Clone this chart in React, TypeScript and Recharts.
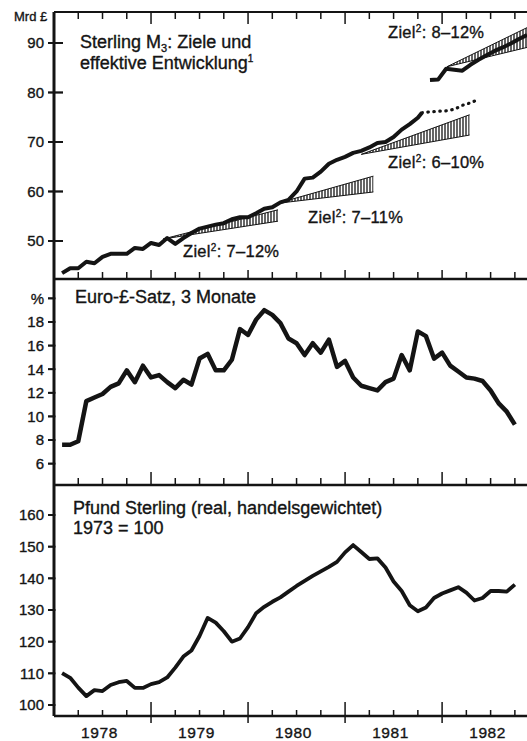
import React from 'react';
import { ComposedChart, Line, Area, XAxis, YAxis } from 'recharts';

const FONT = '"Liberation Sans", Arial, Helvetica, sans-serif';
const INK = '#141414';

// ---- time axis (months since start of 1978) ----
const X_MAX = 58.5;
const quarterTicks = [0, 3, 6, 9, 12, 15, 18, 21, 24, 27, 30, 33, 36, 39, 42, 45, 48, 51, 54, 57];
const yearLabelMonths = [6, 18, 30, 42, 54];
const yearLabels = ['1978', '1979', '1980', '1981', '1982'];

// ---- panel 1: Sterling M3 (Mrd £), monthly from Jan 1978 ----
const m3SolidStart = 1;
const m3Solid = [43.5, 44.5, 44.5, 45.8, 45.5, 46.8, 47.4, 47.4, 47.4, 48.6, 48.4, 49.6, 49.2, 50.6, 49.4,
  50.6, 51.6, 52.5, 52.9, 53.3, 53.6, 54.4, 54.8, 54.8, 55.6, 56.5, 56.8, 57.8, 58.3, 60.0, 62.6, 62.8,
  64.0, 65.6, 66.4, 67.0, 67.8, 68.2, 68.9, 69.8, 70.0, 71.0, 72.5, 73.6, 74.9];
const m3DottedStart = 45.5;
const m3Dotted = [75.9, 76.1, 76.2, 76.3, 76.6, 77.4, 77.9, 78.6];
const m3NewStart = 46.5;
const m3New = [82.5, 82.6, 84.8, 84.6, 84.4, 85.6, 86.6, 87.5, 88.4, 89.1, 89.9, 90.8, 91.6];
const m3Ticks = [50, 60, 70, 80, 90];
const m3Domain: [number, number] = [42.32, 96.26];

// target cones ("Ziel")
const coneLabels = ['7–12%', '7–11%', '6–10%', '8–12%'];
const coneStart = [13.5, 27.6, 38.0, 48.6];
const coneEnd = [27.7, 39.5, 51.4, 58.5];
const coneBase = [50.4, 57.6, 67.5, 85.2];
const coneLow = [54.0, 59.9, 71.4, 89.1];
const coneHigh = [56.3, 63.1, 75.5, 93.1];

// ---- panel 2: Euro-£ rate 3 months (%) ----
const euroStart = 1;
const euroRate = [7.6, 7.6, 7.9, 11.3, 11.6, 11.9, 12.5, 12.8, 13.9, 12.9, 14.3, 13.3, 13.5, 12.9, 12.4,
  13.1, 12.7, 14.9, 15.3, 13.9, 13.9, 14.8, 17.4, 16.9, 18.2, 19.0, 18.6, 17.9, 16.6, 16.2, 15.2, 16.2,
  15.4, 16.5, 14.2, 14.7, 13.3, 12.6, 12.4, 12.2, 12.9, 13.2, 15.2, 13.9, 17.2, 16.8, 14.9, 15.4, 14.3,
  13.8, 13.3, 13.2, 13.0, 12.2, 11.1, 10.4, 9.3];
const euroTicks = [6, 8, 10, 12, 14, 16, 18, 20];
const euroTickLabels: Record<number, string> = { 20: '%' };
const euroDomain: [number, number] = [4.19, 21.64];

// ---- panel 3: Pfund Sterling (real, trade weighted), 1973 = 100 ----
const gbpStart = 1;
const gbpIndex = [110.1, 108.6, 105.5, 102.8, 104.7, 104.4, 106.3, 107.2, 107.6, 105.4, 105.4, 106.6,
  107.2, 108.7, 111.8, 115.3, 117.2, 121.8, 127.5, 126.0, 123.3, 120.0, 121.0, 124.6, 129.0, 131.0,
  132.6, 134.0, 135.8, 137.6, 139.2, 140.8, 142.2, 143.6, 145.2, 148.2, 150.5, 148.3, 146.1, 146.3,
  143.4, 139.0, 136.0, 131.5, 129.6, 130.8, 133.8, 135.2, 136.2, 137.2, 135.5, 133.0, 133.8, 136.0,
  136.0, 135.8, 138.0];
const gbpTicks = [100, 110, 120, 130, 140, 150, 160];
const gbpDomain: [number, number] = [96.53, 169.47];

const series = (start: number, values: number[]) => values.map((v, i) => ({ x: start + i, v }));

const m3SolidData = [...series(m3SolidStart, m3Solid), { x: m3DottedStart, v: m3Dotted[0] }];
const m3DottedData = series(m3DottedStart, m3Dotted);
const m3NewData = series(m3NewStart, m3New);
const coneData = coneLabels.map((_, i) => [
  { x: coneStart[i], r: [coneBase[i], coneBase[i]] },
  { x: coneEnd[i], r: [coneLow[i], coneHigh[i]] },
]);
const euroData = series(euroStart, euroRate);
const gbpData = series(gbpStart, gbpIndex);

const textStyle = { fontFamily: FONT, fill: INK } as const;
const boldish = { stroke: INK, strokeWidth: 0.35 } as const;

type YMarks = { ticks: number[]; domain: [number, number]; plotH: number; inner: number };

// dir: +1 ticks go downward from axis, -1 upward.
// The bottom axis also draws the value-axis tick stubs at its origin (month 0).
function makeXTick(dir: number, minor: number, major: number, majorOut: number, labels: boolean, ym?: YMarks) {
  return (props: any) => {
    const x = Number(props.x);
    const y = Number(props.y);
    const v = Number(props.payload.value);
    const isMajor = v % 12 === 0;
    const len = isMajor ? major : minor;
    const out = isMajor ? majorOut : 0;
    const idx = yearLabelMonths.indexOf(v);
    let stubs: React.ReactNode = null;
    if (ym && v === 0) {
      const [d0, d1] = ym.domain;
      stubs = ym.ticks.map((t) => {
        const ty = y - ((t - d0) / (d1 - d0)) * ym.plotH;
        return (
          <path key={t} d={`M${x - 6},${ty}L${x + Math.max(ym.inner, 1.5)},${ty}`} stroke={INK}
            strokeWidth={1.8} fill="none" />
        );
      });
    }
    return (
      <g>
        {stubs}
        {v > 0 && (
          <path d={`M${x},${y - dir * out}L${x},${y + dir * len}`} stroke={INK} strokeWidth={1.5} fill="none" />
        )}
        {labels && idx >= 0 && (
          <text x={x - 3} y={y + 21.5} textAnchor="middle" fontSize={15.5} letterSpacing={0.6} {...textStyle} {...boldish}>
            {yearLabels[idx]}
          </text>
        )}
      </g>
    );
  };
}

// Y tick labels; Recharts draws the outer tick line (tickSize 6, tickMargin 4), x = label anchor
function makeYTick(inner: number, labels?: Record<number, string>) {
  return (props: any) => {
    const x = Number(props.x);
    const y = Number(props.y);
    const v = Number(props.payload.value);
    const label = labels && labels[v] !== undefined ? labels[v] : String(v);
    return (
      <g>
        {inner > 0 && (
          <path d={`M${x + 10},${y}L${x + 10 + inner},${y}`} stroke={INK} strokeWidth={1.8} fill="none" />
        )}
        <text x={x} y={y} dy="0.36em" textAnchor="end" fontSize={15} {...textStyle} {...boldish}>
          {label}
        </text>
      </g>
    );
  };
}

const W = 527;
const yTickLine = { stroke: INK, strokeWidth: 1.8 };

export default function App() {
  return (
    <div style={{ position: 'absolute', left: 0, top: 0, width: W, height: 741, background: '#fff' }}>
      {/* Panel 1 */}
      <div style={{ position: 'absolute', left: 0, top: 0 }}>
        <ComposedChart width={W} height={285} margin={{ top: 11, right: 0, bottom: 5, left: 0 }}>
          <defs>
            <pattern id="hatch" patternUnits="userSpaceOnUse" width={3} height={10}>
              <line x1={1} x2={1} y1={0} y2={10} stroke={INK} strokeWidth={1.3} />
            </pattern>
          </defs>
          <XAxis xAxisId="b" dataKey="x" type="number" domain={[0, X_MAX]} allowDataOverflow ticks={quarterTicks}
            interval={0} height={1} tickSize={0} tickMargin={0} tickLine={false}
            axisLine={{ stroke: INK, strokeWidth: 2.5 }}
            tick={makeXTick(-1, 7, 9, 0, false, { ticks: m3Ticks, domain: m3Domain, plotH: 267, inner: 9 })} />
          <XAxis xAxisId="t" orientation="top" dataKey="x" type="number" domain={[0, X_MAX]} allowDataOverflow
            ticks={quarterTicks} interval={0} height={1} tickSize={0} tickMargin={0} tickLine={false}
            axisLine={{ stroke: INK, strokeWidth: 2 }} tick={makeXTick(1, 7, 12, 0, false)} />
          <YAxis type="number" domain={m3Domain} allowDataOverflow ticks={m3Ticks} interval={0} width={54}
            tickSize={6} tickMargin={4} tickLine={yTickLine} axisLine={{ stroke: INK, strokeWidth: 3 }}
            tick={makeYTick(9)} />
          {coneData.map((d, i) => (
            <Area key={i} xAxisId="b" data={d} dataKey="r" type="linear" stroke={INK} strokeWidth={1}
              fill="url(#hatch)" fillOpacity={1} isAnimationActive={false} dot={false} activeDot={false} />
          ))}
          <Line xAxisId="b" data={m3SolidData} dataKey="v" type="linear" stroke={INK} strokeWidth={4}
            strokeLinejoin="round" dot={false} activeDot={false} isAnimationActive={false} />
          <Line xAxisId="b" data={m3DottedData} dataKey="v" type="linear" stroke={INK} strokeWidth={3.2}
            strokeDasharray="0.5 5.5" strokeLinecap="round" dot={false} activeDot={false} isAnimationActive={false} />
          <Line xAxisId="b" data={m3NewData} dataKey="v" type="linear" stroke={INK} strokeWidth={4}
            strokeLinejoin="round" dot={false} activeDot={false} isAnimationActive={false} />
        </ComposedChart>
      </div>

      {/* Panel 2 */}
      <div style={{ position: 'absolute', left: 0, top: 273 }}>
        <ComposedChart width={W} height={218} margin={{ top: 6, right: 0, bottom: 5, left: 0 }}>
          <XAxis dataKey="x" type="number" domain={[0, X_MAX]} allowDataOverflow ticks={quarterTicks}
            interval={0} height={1} tickSize={0} tickMargin={0} tickLine={false}
            axisLine={{ stroke: INK, strokeWidth: 2.5 }}
            tick={makeXTick(-1, 7, 13, 0, false, { ticks: euroTicks, domain: euroDomain, plotH: 206, inner: 0 })} />
          <YAxis type="number" domain={euroDomain} allowDataOverflow ticks={euroTicks} interval={0} width={54}
            tickSize={6} tickMargin={4} tickLine={yTickLine} axisLine={{ stroke: INK, strokeWidth: 3 }}
            tick={makeYTick(0, euroTickLabels)} />
          <Line data={euroData} dataKey="v" type="linear" stroke={INK} strokeWidth={4.5}
            strokeLinejoin="round" dot={false} activeDot={false} isAnimationActive={false} />
        </ComposedChart>
      </div>

      {/* Panel 3 */}
      <div style={{ position: 'absolute', left: 0, top: 479 }}>
        <ComposedChart width={W} height={262} margin={{ top: 6, right: 0, bottom: 24, left: 0 }}>
          <XAxis dataKey="x" type="number" domain={[0, X_MAX]} allowDataOverflow ticks={quarterTicks}
            interval={0} height={1} tickSize={0} tickMargin={0} tickLine={false}
            axisLine={{ stroke: INK, strokeWidth: 2.5 }}
            tick={makeXTick(-1, 6, 14, 7, true, { ticks: gbpTicks, domain: gbpDomain, plotH: 231, inner: 0 })} />
          <YAxis type="number" domain={gbpDomain} allowDataOverflow ticks={gbpTicks} interval={0} width={54}
            tickSize={6} tickMargin={4} tickLine={yTickLine} axisLine={{ stroke: INK, strokeWidth: 3 }}
            tick={makeYTick(0)} />
          <Line data={gbpData} dataKey="v" type="linear" stroke={INK} strokeWidth={3.8}
            strokeLinejoin="round" dot={false} activeDot={false} isAnimationActive={false} />
        </ComposedChart>
      </div>

      {/* Titles and annotations */}
      <svg width={W} height={741} style={{ position: 'absolute', left: 0, top: 0, pointerEvents: 'none' }}>
        <g {...textStyle} {...boldish}>
          <text x={14} y={21} fontSize={13}>Mrd £</text>
          <text x={80} y={48} fontSize={18}>
            Sterling M<tspan fontSize={11} dy={4}>3</tspan><tspan dy={-4}>: Ziele und</tspan>
          </text>
          <text x={80} y={69} fontSize={18}>
            effektive Entwicklung<tspan fontSize={10} dy={-7}>1</tspan>
          </text>
          <text x={183} y={257} fontSize={16.5} letterSpacing={0.3}>
            Ziel<tspan fontSize={10} dy={-6}>2</tspan><tspan dy={6}>: {coneLabels[0]}</tspan>
          </text>
          <text x={308} y={223} fontSize={16.5} letterSpacing={0.3}>
            Ziel<tspan fontSize={10} dy={-6}>2</tspan><tspan dy={6}>: {coneLabels[1]}</tspan>
          </text>
          <text x={388} y={168} fontSize={16.5} letterSpacing={0.3}>
            Ziel<tspan fontSize={10} dy={-6}>2</tspan><tspan dy={6}>: {coneLabels[2]}</tspan>
          </text>
          <text x={388} y={38} fontSize={16.5} letterSpacing={0.3}>
            Ziel<tspan fontSize={10} dy={-6}>2</tspan><tspan dy={6}>: {coneLabels[3]}</tspan>
          </text>
          <text x={75} y={303} fontSize={18}>Euro-£-Satz, 3 Monate</text>
          <text x={73} y={514} fontSize={18}>Pfund Sterling (real, handelsgewichtet)</text>
          <text x={73} y={534} fontSize={18}>1973 = 100</text>
        </g>
      </svg>
    </div>
  );
}
